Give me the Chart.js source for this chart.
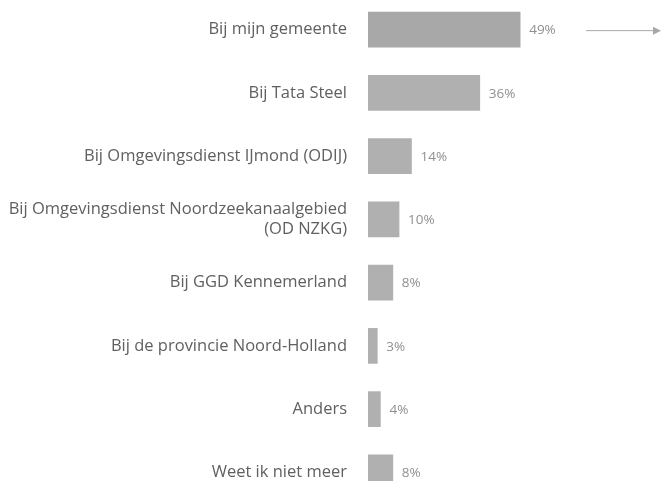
<!DOCTYPE html>
<html>
<head>
<meta charset="utf-8">
<script src="https://cdn.jsdelivr.net/npm/chart.js@4"></script>
<style>
  html, body { margin: 0; padding: 0; background: #fff; overflow: hidden; }
  #wrap { position: absolute; left: 0; top: -2px; width: 663px; height: 506px; }
</style>
</head>
<body>
<div id="wrap"><canvas id="barChart" width="663" height="506"></canvas></div>
<script>
const categories = [
  'Bij mijn gemeente',
  'Bij Tata Steel',
  'Bij Omgevingsdienst IJmond (ODIJ)',
  ['Bij Omgevingsdienst Noordzeekanaalgebied', '(OD NZKG)'],
  'Bij GGD Kennemerland',
  'Bij de provincie Noord-Holland',
  'Anders',
  'Weet ik niet meer'
];
const percentages = [49, 36, 14, 10, 8, 3, 4, 8];

// percentage text right of each bar
const valueLabels = {
  id: 'valueLabels',
  afterDatasetsDraw(chart) {
    const ctx = chart.ctx;
    const meta = chart.getDatasetMeta(0);
    ctx.save();
    ctx.font = '13.5px "Open Sans"';
    ctx.fillStyle = '#909090';
    ctx.textAlign = 'left';
    ctx.textBaseline = 'middle';
    meta.data.forEach((bar, i) => {
      ctx.fillText(percentages[i] + '%', bar.x + 9, bar.y + 1);
    });
    ctx.restore();
  }
};

// small arrow pointing right, next to the first bar
const arrow = {
  id: 'arrow',
  afterDraw(chart) {
    const ctx = chart.ctx;
    const bar = chart.getDatasetMeta(0).data[0];
    const y = bar.y + 1;
    ctx.save();
    ctx.strokeStyle = '#a8a8a8';
    ctx.fillStyle = '#a8a8a8';
    ctx.lineWidth = 1;
    ctx.beginPath();
    ctx.moveTo(586, y);
    ctx.lineTo(654, y);
    ctx.stroke();
    ctx.beginPath();
    ctx.moveTo(661, y);
    ctx.lineTo(653, y - 4);
    ctx.lineTo(653, y + 4);
    ctx.closePath();
    ctx.fill();
    ctx.restore();
  }
};

const ctx = document.getElementById('barChart').getContext('2d');
new Chart(ctx, {
  type: 'bar',
  data: {
    labels: categories,
    datasets: [{ data: percentages, backgroundColor: ['#a8a8a8', '#b0b0b0', '#b0b0b0', '#b0b0b0', '#b0b0b0', '#b0b0b0', '#b0b0b0', '#b0b0b0'], barThickness: 35 }]
  },
  options: {
    indexAxis: 'y',
    responsive: false,
    animation: false,
    layout: { padding: 0 },
    plugins: { legend: { display: false }, tooltip: { enabled: false } },
    scales: {
      x: { display: false, min: 0, max: 95 },
      y: {
        grid: { display: false, drawTicks: false },
        border: { display: false },
        afterFit: (scale) => { scale.width = 368; scale.paddingTop = 0; scale.paddingBottom = 0; },
        ticks: { color: '#606060', padding: 21, font: { family: 'Open Sans', size: 16.5 } }
      }
    }
  },
  plugins: [valueLabels, arrow]
});
</script>
</body>
</html>
